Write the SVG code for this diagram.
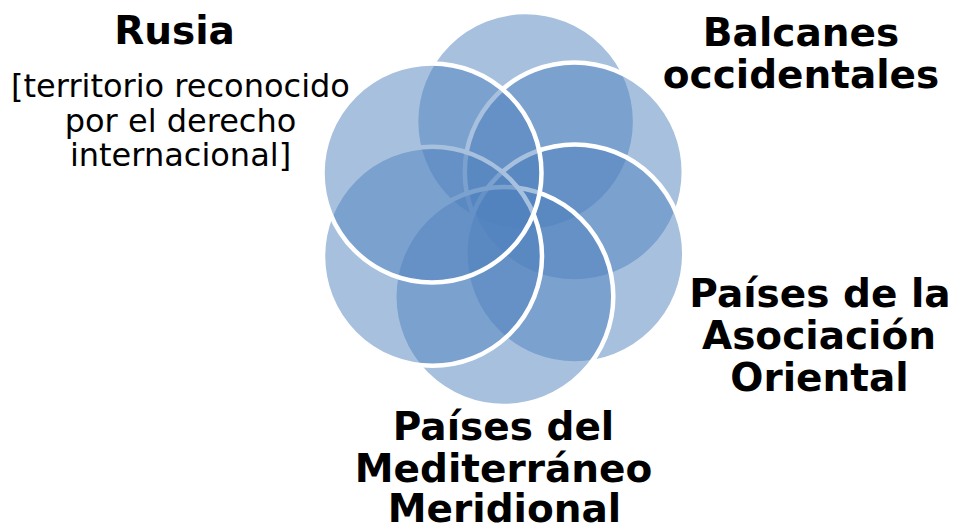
<svg xmlns="http://www.w3.org/2000/svg" width="956" height="527" viewBox="0 0 956 527">
<style>
.c{fill:#4f81bd;fill-opacity:0.5;stroke:#fff;stroke-width:4.5}
.h{font-family:"DejaVu Sans",Verdana,sans-serif;font-weight:bold;font-size:39px;fill:#000;text-anchor:middle}
.s{font-family:"DejaVu Sans",Verdana,sans-serif;font-size:32px;fill:#000;text-anchor:middle}
</style>
<rect width="956" height="527" fill="#fff"/>
<g id="circles">
<g id="ring-top"><circle class="c" cx="525.6" cy="121.5" r="109.5"/></g>
<g id="ring-top-right"><circle class="c" cx="574.3" cy="172" r="109.5"/></g>
<g id="ring-bottom-right"><circle class="c" cx="574.8" cy="254" r="109.5"/></g>
<g id="ring-bottom"><circle class="c" cx="503.8" cy="296.5" r="109.5"/></g>
<g id="ring-bottom-left"><circle class="c" cx="432.5" cy="256.3" r="109.5"/></g>
<g id="ring-top-left"><circle class="c" cx="432" cy="173" r="109.5"/></g>
</g>
<g id="connectors"/>
<g id="label-rusia">
<text class="h" x="174.5" y="44">Rusia</text>
<text class="s" x="180.5" y="97">[territorio reconocido</text>
<text class="s" x="180.5" y="131.5">por el derecho</text>
<text class="s" x="180.5" y="165.5">internacional]</text>
</g>
<g id="label-balcanes">
<text class="h" x="801" y="46">Balcanes</text>
<text class="h" x="801" y="88">occidentales</text>
</g>
<g id="label-oriental">
<text class="h" x="820" y="307">Países de la</text>
<text class="h" x="819" y="349">Asociación</text>
<text class="h" x="819.5" y="391">Oriental</text>
</g>
<g id="label-mediterraneo">
<text class="h" x="503.5" y="440">Países del</text>
<text class="h" x="503.5" y="482">Mediterráneo</text>
<text class="h" x="504.5" y="522">Meridional</text>
</g>
</svg>
